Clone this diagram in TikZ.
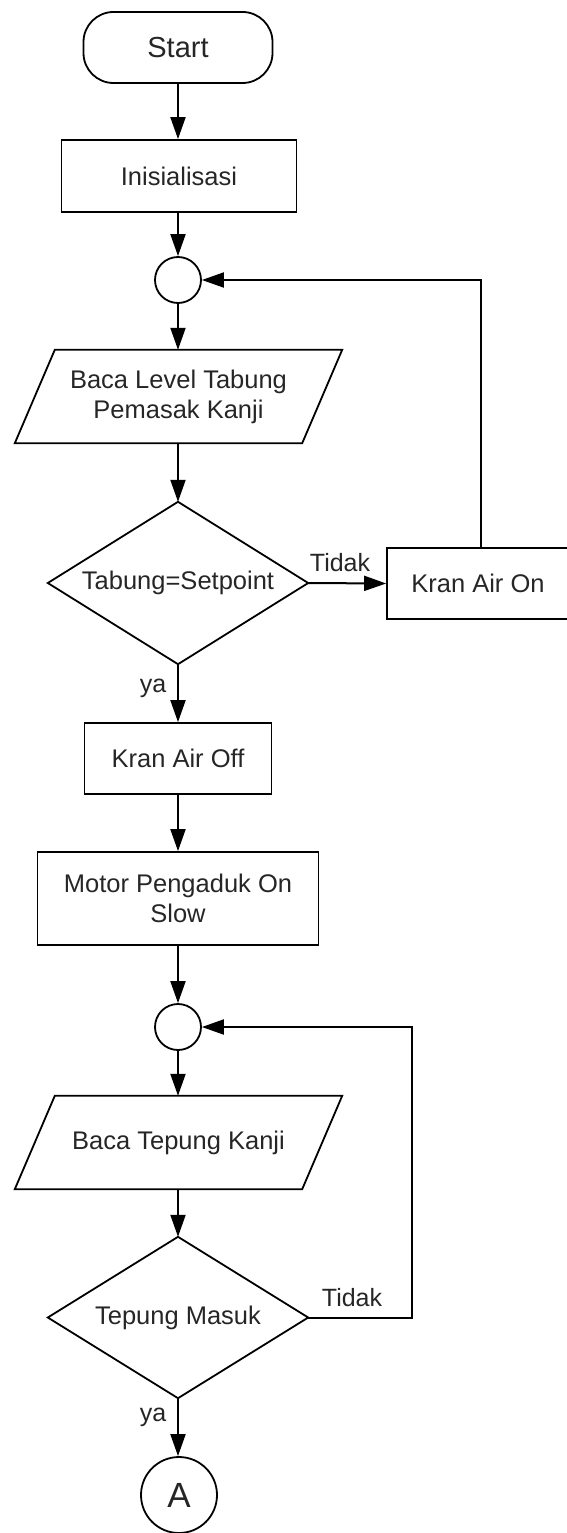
\documentclass[tikz,border=0pt]{standalone}
\usepackage{fontspec}
\setmainfont{Liberation Sans}
\usetikzlibrary{arrows.meta}
\tikzset{
  base/.style={font=\fontsize{25.5}{30}\selectfont, align=center, inner sep=0pt, text=black!85},
  procbox/.style={base, draw, line width=1.8pt},
  termbox/.style={procbox, rounded corners=30pt},
  connbox/.style={base, draw, circle, line width=1.8pt},
  outline/.style={line width=1.8pt, line join=miter},
  flow/.style={line width=2pt, -{Triangle[length=22pt,width=15pt]}},
  lbl/.style={font=\fontsize{25}{30}\selectfont, inner sep=0pt, text=black!85}
}
\begin{document}
\begin{tikzpicture}[x=1pt,y=-1pt]
\useasboundingbox (0,0) rectangle (566,1533);

% nodes
\node[termbox, minimum width=189pt, minimum height=71pt, font=\fontsize{29}{32}\selectfont] (start) at (178,47.5) {Start};
\node[procbox, minimum width=235pt, minimum height=72pt] (init) at (179,176) {Inisialisasi};
\node[connbox, minimum size=46pt] (c1) at (178,280) {};
\node[base, minimum width=327pt, minimum height=93pt] (r1) at (178.5,396.5) {Baca Level Tabung\\Pemasak Kanji};
\node[base, minimum width=260pt, minimum height=162pt] (d1) at (178,583) {Tabung=Setpoint};
\node[procbox, minimum width=182pt, minimum height=71pt] (kon) at (478,583.5) {Kran Air On};
\node[procbox, minimum width=187pt, minimum height=71pt] (koff) at (178,758.5) {Kran Air Off};
\node[procbox, minimum width=281pt, minimum height=93pt] (motor) at (178,898.5) {Motor Pengaduk On\\Slow};
\node[connbox, minimum size=46pt] (c2) at (178,1027) {};
\node[base, minimum width=327pt, minimum height=93pt] (r2) at (178.5,1142.5) {Baca Tepung Kanji};
\node[base, minimum width=260pt, minimum height=161pt] (d2) at (178,1317.5) {Tepung Masuk};
\node[connbox, minimum size=76pt, font=\fontsize{35}{38}\selectfont] (ca) at (179,1495) {A};

% shape outlines
\draw[outline] ([xshift=40pt]r1.north west) -- (r1.north east) -- ([xshift=-40pt]r1.south east) -- (r1.south west) -- cycle;
\draw[outline] ([xshift=40pt]r2.north west) -- (r2.north east) -- ([xshift=-40pt]r2.south east) -- (r2.south west) -- cycle;
\draw[outline] (d1.north) -- (d1.east) -- (d1.south) -- (d1.west) -- cycle;
\draw[outline] (d2.north) -- (d2.east) -- (d2.south) -- (d2.west) -- cycle;

% labels
\node[lbl] (ya1) at (153,688) {ya};
\node[lbl] (tidak1) at (340,563) {Tidak};
\node[lbl] (ya2) at (153,1417) {ya};
\node[lbl] (tidak2) at (352,1298) {Tidak};

% connectors
\draw[flow] (start.south) -- (start.south |- init.north);
\draw[flow] (init.south -| c1.north) -- (c1.north);
\draw[flow] (c1.south) -- (c1.south |- r1.north);
\draw[flow] (c1.south |- r1.south) -- (d1.north);
\draw[flow] (d1.south) -- (koff.north);
\draw[flow] (koff.south) -- (motor.north);
\draw[flow] (motor.south) -- (c2.north);
\draw[flow] (c2.south) -- (c2.south |- r2.north);
\draw[flow] (c2.south |- r2.south) -- (d2.north);
\draw[flow] (d2.south) -- (d2.south |- ca.north);
\draw[flow] (d1.east) -- (kon.west);
\draw[flow] ([xshift=3pt]kon.north) |- (c1.east);
\draw[flow] (d2.east) -- ++(104,0) |- (c2.east);
\end{tikzpicture}
\end{document}
